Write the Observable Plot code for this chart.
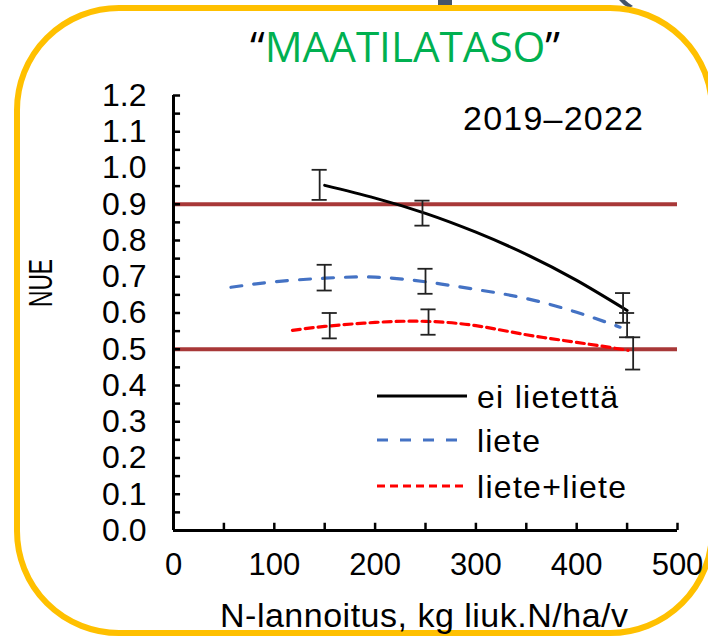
<!DOCTYPE html>
<html>
<head>
<meta charset="utf-8">
<script src="https://cdn.jsdelivr.net/npm/d3@7"></script>
<script src="https://cdn.jsdelivr.net/npm/@observablehq/plot@0.6"></script>
<style>
  body { margin: 0; background: #fff; }
  #wrap { position: relative; width: 708px; height: 637px; overflow: hidden; font-family: "Liberation Sans", Arial, sans-serif; }
  #heading { position: absolute; left: 0; top: 0; }
  #frame { position: absolute; left: 14px; top: 5px; width: 701px; height: 631px; box-sizing: border-box;
           border: 6.5px solid #FFC000; border-radius: 105px; }
  #chart { position: absolute; left: 0; top: 0; }
</style>
</head>
<body>
<div id="wrap">
  <!-- lower edge of the slide heading running behind the frame -->
  <svg id="heading" width="708" height="12">
    <rect x="438" y="0" width="14" height="7" fill="#44546A"></rect>
    <path d="M619,0 Q623,5 629,8 L633,6 Q628,3 625,0 Z" fill="#44546A"></path>
  </svg>
  <div id="frame"></div>
  <div id="chart"></div>
</div>
<script>
// N fertilisation (kg soluble N/ha/yr) vs nitrogen use efficiency, 2019–2022
const seriesNames = ["ei lietettä", "liete", "liete+liete"];
const seriesColors = ["#000000", "#4472C4", "#FF0000"];
const seriesDash = [null, "11,12", "8,5"];

// fitted response curves
const curveEiX = [150, 200, 250, 300, 350, 400, 450];
const curveEiY = [0.952, 0.917, 0.875, 0.823, 0.762, 0.690, 0.607];
const curveLieteX = [57, 100, 150, 200, 250, 300, 350, 400, 443];
const curveLieteY = [0.671, 0.686, 0.696, 0.699, 0.686, 0.665, 0.640, 0.602, 0.561];
const curveLLX = [118, 150, 200, 250, 300, 350, 400, 451];
const curveLLY = [0.552, 0.563, 0.574, 0.577, 0.565, 0.540, 0.519, 0.497];

// observed means with error bars (slightly offset along x)
const errX = [[145, 247, 446], [150, 250, 450], [155, 253, 456]];
const errLo = [[0.912, 0.841, 0.573], [0.662, 0.653, 0.533], [0.530, 0.540, 0.444]];
const errHi = [[0.995, 0.910, 0.655], [0.733, 0.722, 0.600], [0.600, 0.610, 0.533]];

// reference levels
const refLevels = [0.9, 0.5];

const yTickLabels = [0, 0.1, 0.2, 0.3, 0.4, 0.5, 0.6, 0.7, 0.8, 0.9, 1.0, 1.1, 1.2];
const yMinorTicks = d3.range(0, 1.2001, 0.05);
const xTickLabels = [0, 100, 200, 300, 400, 500];
const xMinorTicks = [50, 100, 150, 200, 250, 300, 350, 400, 450, 500];

const curves = [
  curveEiX.map((x, i) => ({s: 0, x, y: curveEiY[i]})),
  curveLieteX.map((x, i) => ({s: 1, x, y: curveLieteY[i]})),
  curveLLX.map((x, i) => ({s: 2, x, y: curveLLY[i]}))
];
const errs = errX.flatMap((xs, s) => xs.map((x, i) => ({s, x, lo: errLo[s][i], hi: errHi[s][i]})));

const FONT = "'Liberation Sans', Arial, sans-serif";
const FS = 31;
const capHalf = 7.5; // error-bar cap half width, x units

const plot = Plot.plot({
  width: 708,
  height: 637,
  marginLeft: 173,
  marginRight: 31,
  marginTop: 95,
  marginBottom: 107,
  x: {domain: [0, 500]},
  y: {domain: [0, 1.2]},
  style: {fontFamily: FONT, fontSize: FS + "px", color: "#000", background: "transparent", overflow: "visible"},
  marks: [
    Plot.ruleY(refLevels, {x1: 0, x2: 500, stroke: "#A83838", strokeWidth: 4}),
    ...curves.map((c, s) => Plot.line(c, {
      x: "x", y: "y", curve: "natural",
      stroke: seriesColors[s], strokeWidth: s === 0 ? 3 : 3.2,
      strokeDasharray: seriesDash[s]
    })),
    Plot.ruleX(errs, {x: "x", y1: "lo", y2: "hi", stroke: "#222", strokeWidth: 1.8}),
    Plot.ruleY(errs, {y: "lo", x1: d => d.x - capHalf, x2: d => d.x + capHalf, stroke: "#222", strokeWidth: 1.8}),
    Plot.ruleY(errs, {y: "hi", x1: d => d.x - capHalf, x2: d => d.x + capHalf, stroke: "#222", strokeWidth: 1.8}),
    // axes
    Plot.ruleY(yMinorTicks, {x1: 0, x2: 7, stroke: "#000", strokeWidth: 2.5}),
    Plot.ruleX(xMinorTicks, {y1: 0, y2: 0.02, stroke: "#000", strokeWidth: 2.5}),
    Plot.ruleX([0], {y1: 0, y2: 1.2, stroke: "#000", strokeWidth: 3}),
    Plot.ruleY([0], {x1: 0, x2: 500, stroke: "#000", strokeWidth: 3}),
    Plot.axisY({ticks: yTickLabels, tickSize: 0, tickPadding: 27, tickFormat: d3.format(".1f"), label: null, fontSize: 32}),
    Plot.axisX({ticks: xTickLabels, tickSize: 0, tickPadding: 22, tickFormat: d3.format("d"), label: null, fontSize: FS})
  ]
});

document.getElementById("chart").appendChild(plot);
const svg = d3.select(plot);

function label(x, y, txt, anchor, size, length, adjust) {
  const t = svg.append("text")
    .attr("x", x).attr("y", y)
    .attr("text-anchor", anchor)
    .style("font", `${size}px ${FONT}`)
    .text(txt);
  if (length) t.attr("textLength", length).attr("lengthAdjust", adjust || "spacing");
  return t;
}

// axis titles
label(424, 627, "N-lannoitus, kg liuk.N/ha/v", "middle", 34, 408);
label(0, 0, "NUE", "middle", 34, 48, "spacingAndGlyphs")
  .attr("x", null).attr("y", null)
  .attr("transform", "translate(52,283) rotate(-90)");

// period label
label(463, 130, "2019–2022", "start", 34, 180);

// title
const title = svg.append("text")
  .attr("x", 405).attr("y", 62)
  .attr("text-anchor", "middle")
  .style("font", `42px 'Open Sans', sans-serif`)
  .attr("textLength", 310)
  .attr("lengthAdjust", "spacingAndGlyphs");
title.append("tspan").attr("fill", "#000").text("“");
title.append("tspan").attr("fill", "#00B050").text("MAATILATASO");
title.append("tspan").attr("fill", "#000").text("”");

// legend
const legY = [396, 440, 486];
const legLen = [141, 63, 149];
seriesNames.forEach((name, i) => {
  svg.append("line")
    .attr("x1", 377).attr("x2", 467).attr("y1", legY[i]).attr("y2", legY[i])
    .attr("stroke", seriesColors[i]).attr("stroke-width", 3)
    .attr("stroke-dasharray", seriesDash[i]);
  label(477, legY[i] + 12, name, "start", 32, legLen[i]);
});
</script>
</body>
</html>
